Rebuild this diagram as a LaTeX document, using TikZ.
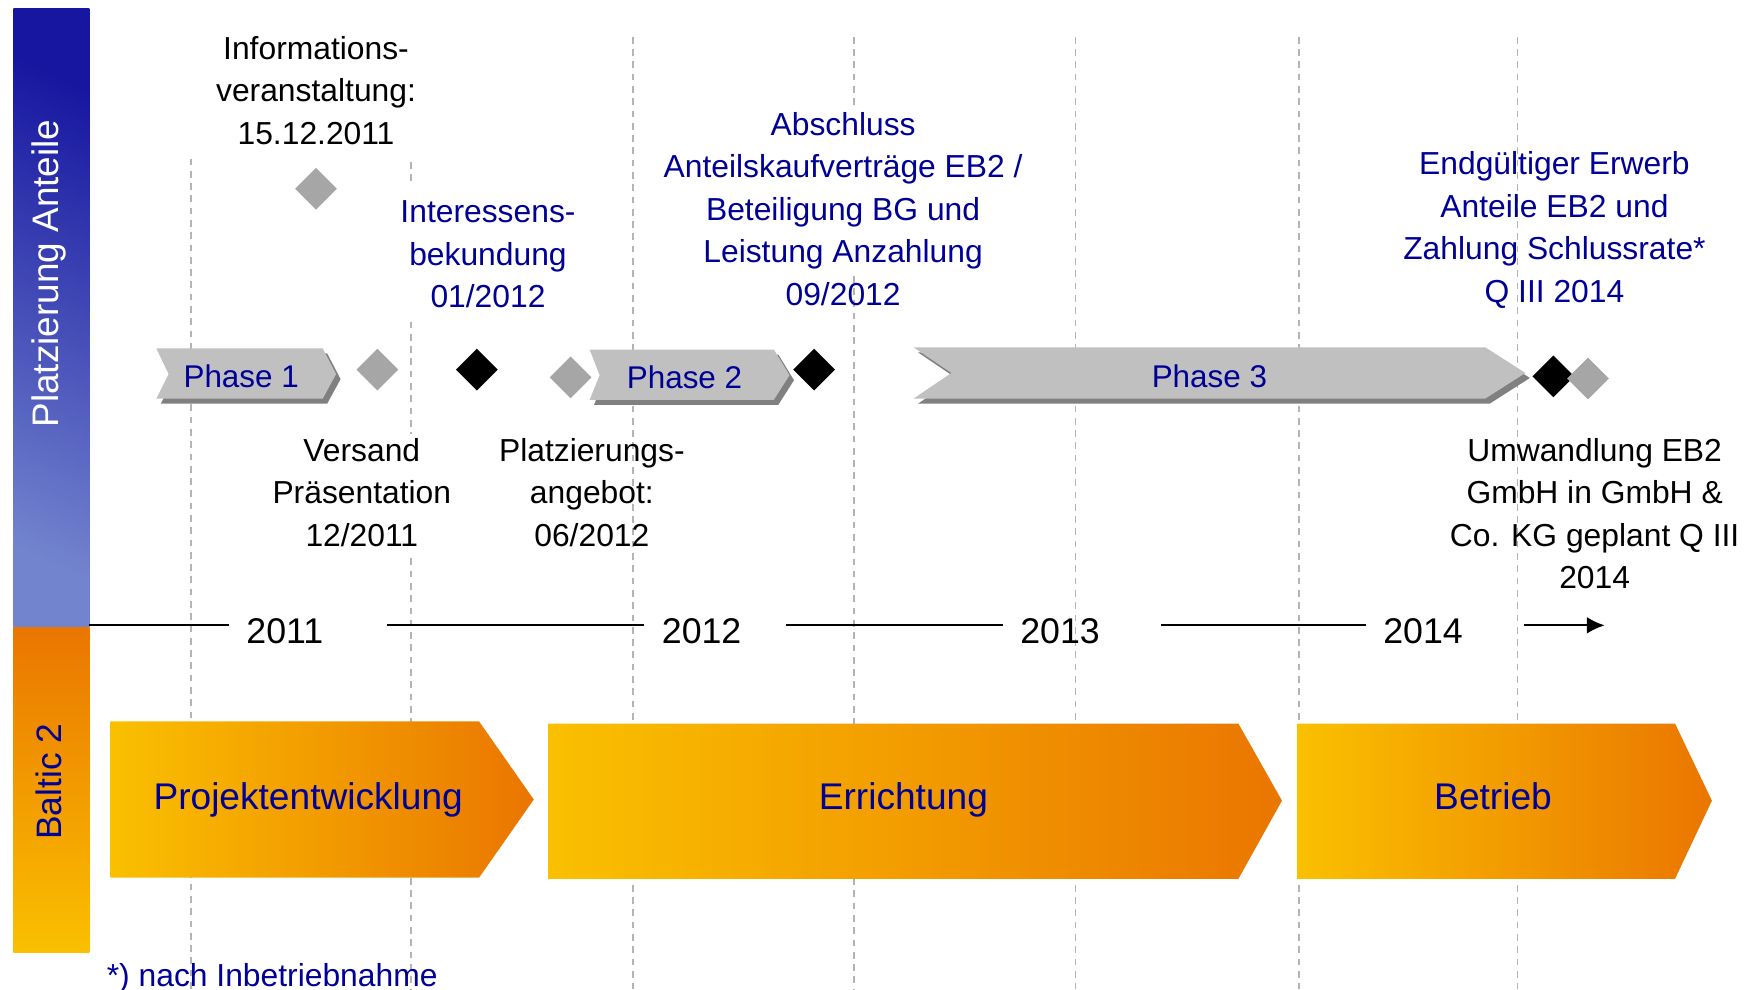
\documentclass[tikz,border=0pt]{standalone}
\usepackage{fontspec}
\setmainfont{Liberation Sans}
\usetikzlibrary{positioning,shapes.geometric,arrows,arrows.meta}

\definecolor{txtblue}{RGB}{0,0,150}
\definecolor{bardark}{RGB}{22,22,160}
\definecolor{barlight}{RGB}{115,132,206}
\definecolor{barorange}{RGB}{234,118,0}
\definecolor{baryellow}{RGB}{250,192,0}
\definecolor{phgray}{RGB}{192,192,192}
\definecolor{phshade}{RGB}{128,128,128}
\definecolor{msgray}{RGB}{166,166,166}
\definecolor{gridgray}{RGB}{180,180,180}

\tikzset{
 tk/.style
  = {align=center, font=\fontsize{8.1}{10.8}\selectfont, inner sep=0pt},
 tb/.style
  = {tk, text=txtblue},
 ms/.style
  = {diamond, fill=msgray, inner sep=0pt, minimum size=0.38cm},
 msk/.style
  = {ms, fill=black},
 ph/.style
  = {fill=phgray, preaction={fill=phshade, transform canvas={xshift=0.04cm, yshift=-0.045cm}}},
 phl/.style
  = {text=txtblue, font=\fontsize{8}{10}\selectfont},
 bx/.style
  = {left color=baryellow, right color=barorange},
 bxl/.style
  = {anchor=base, text=txtblue, font=\fontsize{9.45}{12}\selectfont},
 yr/.style
  = {anchor=west, text width=1.1cm, align=left, inner xsep=0.15cm, font=\fontsize{9.1}{11}\selectfont},
 l/.style
  = {draw, line width=0.5pt},
 vl/.style
  = {draw=gridgray, line width=0.4pt, dash pattern=on 0.06cm off 0.05cm}
}

\begin{document}
\begin{tikzpicture}[x=0.01cm, y=-0.01cm]
    \useasboundingbox (0,0) rectangle (1568,886);

    % lanes on the left
    \shade[top color=bardark, bottom color=barlight, shading angle=-25] (12,8) rectangle (80,562);
    \shade[top color=barorange, bottom color=baryellow] (12,562) rectangle (80,853);
    \node [rotate=90, text=white, font=\fontsize{9.4}{11}\selectfont] (lane1) at (44,245) {Platzierung Anteile};
    \node [rotate=90, text=txtblue, font=\fontsize{9}{11}\selectfont] (lane2) at (44,700) {Baltic 2};

    % quarter grid
    \foreach \x/\ya/\yb in {171/142/886, 368/145/166, 368/288/389, 368/500/886,
        567/33/886, 765/33/95, 765/247/886, 963/33/886, 1163/33/886, 1359/33/886}
      \draw [vl] (\x,\ya) -- (\x,\yb);

    % phases
    \path [ph] (140,312) -- (289,312) -- (301,335) -- (289,357) -- (140,357) -- (151,335) -- cycle;
    \path [ph] (528,313) -- (693,313) -- (707,336) -- (693,358) -- (528,358) -- (537,336) -- cycle;
    \path [ph] (818,311) -- (1330,311) -- (1366,334) -- (1330,357) -- (818,357) -- (852,334) -- cycle;
    \node [phl] (phase1) at (216,337) {Phase 1};
    \node [phl] (phase2) at (613,338) {Phase 2};
    \node [phl] (phase3) at (1083,337) {Phase 3};

    % project stages
    \shade [bx] (99,646) -- (429,646) -- (478,716) -- (429,786) -- (99,786) -- cycle;
    \shade [bx] (491,648) -- (1109,648) -- (1148,717) -- (1109,787) -- (491,787) -- cycle;
    \shade [bx] (1162,648) -- (1500,648) -- (1533,717) -- (1500,787) -- (1162,787) -- cycle;
    \node [bxl] (develop) at (276,725) {Projektentwicklung};
    \node [bxl] (build) at (809,725) {Errichtung};
    \node [bxl] (operate) at (1337,725) {Betrieb};

    % milestones
    \node [ms] (infoday) at (283,169) {};
    \node [ms] (mailing) at (338,331) {};
    \node [msk] (interest) at (427,331) {};
    \node [ms] (offer) at (511,338) {};
    \node [msk] (closing) at (729,331) {};
    \node [msk] (final) at (1391,337) {};
    \node [ms] (convert) at (1422,339) {};

    \node [tk] (infodaytxt) at (283,81) {Informations-\\veranstaltung:\\15.12.2011};
    \node [tb] (interesttxt) at (437,228) {Interessens-\\bekundung\\01/2012};
    \node [tb] (closingtxt) at (755,187) {Abschluss\\Anteilskaufverträge EB2 /\\Beteiligung BG und\\Leistung Anzahlung\\09/2012};
    \node [tb] (finaltxt) at (1392,206) {Endgültiger Erwerb\\Anteile EB2 und\\Zahlung Schlussrate*\\Q III 2014};
    \node [tk] (mailingtxt) at (324,441) {Versand\\Präsentation\\12/2011};
    \node [tk] (offertxt) at (530,441) {Platzierungs-\\angebot:\\06/2012};
    \node [tk] (converttxt) at (1428,460) {Umwandlung EB2\\GmbH in GmbH \&\\Co. KG geplant Q III\\2014};

    % time axis
    \node [yr] (y2011) at (205,565) {2011};
    \node [yr, text width=0.95cm] (y2012) at (577,565) {2012};
    \node [yr] (y2013) at (898,565) {2013};
    \node [yr] (y2014) at (1223,565) {2014};
    \coordinate (ax0) at (80,560);
    \coordinate (ax1) at (1437,560);
    \path [l] (ax0) -- (ax0 -| y2011.west);
    \path [l] (ax0 -| y2011.east) -- (ax0 -| y2012.west);
    \path [l] (ax0 -| y2012.east) -- (ax0 -| y2013.west);
    \path [l] (ax0 -| y2013.east) -- (ax0 -| y2014.west);
    \path [l, -{Latex[length=0.16cm, width=0.15cm]}] (ax0 -| y2014.east) -- (ax1);

    \node [tb, anchor=base west] (note) at (95,883) {*) nach Inbetriebnahme};

\end{tikzpicture}
\end{document}
